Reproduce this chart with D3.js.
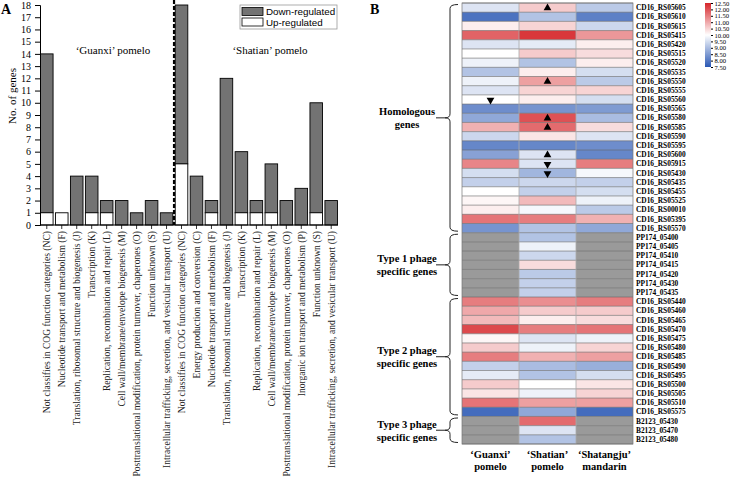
<!DOCTYPE html>
<html><head><meta charset="utf-8">
<script src="https://cdn.jsdelivr.net/npm/d3@7/dist/d3.min.js"></script>
<style>body{margin:0;background:#fff}svg{display:block}</style>
</head><body>
<script>
// ---------- Panel A data ----------
const categoriesG = ["Not classifies in COG function categories (NC)","Nucleotide transport and metabolism (F)","Translation, ribosomal structure and biogenesis (J)","Transcription (K)","Replication, recombination and repair (L)","Cell wall/membrane/envelope biogenesis (M)","Posttranslational modification, protein turnover, chaperones (O)","Function unknown (S)","Intracellular trafficking, secretion, and vesicular transport (U)"];
const upG   = [1,1,0,1,1,0,0,0,0];
const downG = [13,0,4,3,1,2,1,2,1];
const categoriesS = ["Not classifies in COG function categories (NC)","Energy production and conversion (C)","Nucleotide transport and metabolism (F)","Translation, ribosomal structure and biogenesis (J)","Transcription (K)","Replication, recombination and repair (L)","Cell wall/membrane/envelope biogenesis (M)","Posttranslational modification, protein turnover, chaperones (O)","Inorganic ion transport and metabolism (P)","Function unknown (S)","Intracellular trafficking, secretion, and vesicular transport (U)"];
const upS   = [5,0,1,0,1,1,1,0,0,1,0];
const downS = [13,4,1,12,5,1,4,2,3,9,2];
const yTicks = d3.range(0,19);

// ---------- Panel B data ----------
const genes = ["CD16_RS05605","CD16_RS05610","CD16_RS05615","CD16_RS05415","CD16_RS05420","CD16_RS05515","CD16_RS05520","CD16_RS05535","CD16_RS05550","CD16_RS05555","CD16_RS05560","CD16_RS05565","CD16_RS05580","CD16_RS05585","CD16_RS05590","CD16_RS05595","CD16_RS05600","CD16_RS05915","CD16_RS05430","CD16_RS05435","CD16_RS05455","CD16_RS05525","CD16_RS00010","CD16_RS05395","CD16_RS05570",
 "PP174_05400","PP174_05405","PP174_05410","PP174_05415","PP174_05420","PP174_05430","PP174_05435",
 "CD16_RS05440","CD16_RS05460","CD16_RS05465","CD16_RS05470","CD16_RS05475","CD16_RS05480","CD16_RS05485","CD16_RS05490","CD16_RS05495","CD16_RS05500","CD16_RS05505","CD16_RS05510","CD16_RS05575",
 "B2123_05430","B2123_05470","B2123_05480"];
const columns = ["‘Guanxi’|pomelo","‘Shatian’|pomelo","‘Shatangju’|mandarin"];
const valGuanxi = [9.6,7.9,10.2,11.8,9.6,10.0,9.8,9.1,9.8,9.6,10.0,8.3,8.7,10.9,9.4,8.2,8.6,11.4,9.5,9.3,10.0,10.1,10.2,11.6,8.4,
 null,null,null,null,null,null,null,
 11.5,11.0,10.8,12.1,10.1,10.6,11.5,9.3,9.7,10.6,10.3,11.6,7.8,
 null,null,null];
const valShatian = [10.6,9.1,10.5,12.3,9.7,10.6,9.1,10.2,11.1,10.5,10.2,8.4,12.0,11.7,10.3,8.2,9.6,9.6,8.9,9.4,9.3,10.8,9.9,11.5,9.1,
 9.1,9.8,9.4,10.4,9.2,9.3,9.3,
 11.3,10.6,10.2,11.5,9.6,9.8,10.9,9.0,9.1,10.0,9.8,11.1,8.7,
 11.7,9.6,9.1];
const valShatangju = [9.2,8.1,9.4,11.2,10.2,10.4,10.2,9.5,9.2,10.5,9.5,8.5,9.0,10.4,9.6,8.3,8.2,11.5,9.9,9.3,9.5,9.8,9.2,10.9,8.7,
 null,null,null,null,null,null,null,
 11.5,10.6,10.4,11.6,9.8,10.5,11.1,8.8,9.5,10.3,10.5,11.1,7.8,
 null,null,null];
const groups = [
 {name:["Homologous","genes"], first:0, last:24},
 {name:["Type 1 phage","specific genes"], first:25, last:31},
 {name:["Type 2 phage","specific genes"], first:32, last:44},
 {name:["Type 3 phage","specific genes"], first:45, last:47}];
const arrows = [
 {gene:"CD16_RS05605", col:1, dir:"up"},
 {gene:"CD16_RS05550", col:1, dir:"up"},
 {gene:"CD16_RS05560", col:0, dir:"down"},
 {gene:"CD16_RS05580", col:1, dir:"up"},
 {gene:"CD16_RS05585", col:1, dir:"up"},
 {gene:"CD16_RS05600", col:1, dir:"up"},
 {gene:"CD16_RS05915", col:1, dir:"down"},
 {gene:"CD16_RS05430", col:1, dir:"down"}];
const legendTicks = [12.5,12,11.5,11,10.5,10,9.5,9,8.5,8,7.5];

const W=733,H=482;
const svg=d3.select("body").append("svg").attr("width",W).attr("height",H);
const serif="'Liberation Serif','Times New Roman',serif";
const sans="'Liberation Sans',Arial,sans-serif";

// ================= Panel A =================
const cats = categoriesG.concat(categoriesS);
const ups = upG.concat(upS), downs = downG.concat(downS);
const idx = d3.range(cats.length);
const x = d3.scaleBand().domain(idx).range([40.5,337.5]).paddingInner(0.16).paddingOuter(0);
const y = d3.scaleLinear().domain([0,18]).range([225,5]);
const gA = svg.append("g");

gA.selectAll("rect.down").data(idx).join("rect")
  .attr("x",i=>x(i)).attr("width",x.bandwidth())
  .attr("y",i=>y(ups[i]+downs[i])).attr("height",i=>y(ups[i])-y(ups[i]+downs[i]))
  .attr("fill","#737373").attr("stroke","#000").attr("stroke-width",0.9);
gA.selectAll("rect.up").data(idx.filter(i=>ups[i]>0)).join("rect")
  .attr("x",i=>x(i)).attr("width",x.bandwidth())
  .attr("y",i=>y(ups[i])).attr("height",i=>y(0)-y(ups[i]))
  .attr("fill","#fff").attr("stroke","#000").attr("stroke-width",0.9);

// y axis
const yAx = gA.append("g").attr("transform","translate(40,0)")
  .call(d3.axisLeft(y).tickValues(yTicks).tickSize(5).tickFormat(d3.format("d")));
yAx.select(".domain").attr("stroke","#000");
yAx.selectAll("text").attr("font-family",serif).attr("font-size",10).attr("fill","#000").attr("dx","-1");
// x axis line
gA.append("line").attr("x1",40).attr("x2",338).attr("y1",225).attr("y2",225).attr("stroke","#000");
gA.selectAll("line.xt").data(idx).join("line")
  .attr("x1",i=>x(i)+x.bandwidth()/2).attr("x2",i=>x(i)+x.bandwidth()/2)
  .attr("y1",225).attr("y2",229).attr("stroke","#000").attr("stroke-width",0.8);
// x labels
gA.selectAll("text.xl").data(idx).join("text")
  .attr("transform",i=>`translate(${x(i)+x.bandwidth()/2+3.5},231) rotate(-90)`)
  .attr("text-anchor","end").attr("font-family",serif).attr("font-size",9.6).attr("fill","#222")
  .text(i=>cats[i]);

// dashed separator
const sepX = (x(categoriesG.length-1)+x.bandwidth()+x(categoriesG.length))/2;
gA.append("line").attr("x1",sepX).attr("x2",sepX).attr("y1",0).attr("y2",225)
  .attr("stroke","#000").attr("stroke-width",2.2).attr("stroke-dasharray","4,2");

// axis title
gA.append("text").attr("transform","translate(16,96) rotate(-90)").attr("text-anchor","middle")
  .attr("font-family",serif).attr("font-size",11).text("No. of genes");
gA.append("text").attr("x",113).attr("y",54).attr("text-anchor","middle")
  .attr("font-family",serif).attr("font-size",11).text("‘Guanxi’ pomelo");
gA.append("text").attr("x",270).attr("y",54).attr("text-anchor","middle")
  .attr("font-family",serif).attr("font-size",11).text("‘Shatian’ pomelo");
// legend
gA.append("rect").attr("x",240).attr("y",5).attr("width",97).attr("height",24).attr("fill","#fff").attr("stroke","#999").attr("stroke-width",0.8);
gA.append("rect").attr("x",242).attr("y",7.5).attr("width",21).attr("height",8).attr("fill","#737373").attr("stroke","#000").attr("stroke-width",0.8);
gA.append("rect").attr("x",242).attr("y",18).attr("width",21).attr("height",8).attr("fill","#fff").attr("stroke","#000").attr("stroke-width",0.8);
gA.append("text").attr("x",266).attr("y",15).attr("font-family",sans).attr("font-size",9.8).text("Down-regulated");
gA.append("text").attr("x",266).attr("y",26).attr("font-family",sans).attr("font-size",9.8).text("Up-regulated");
svg.append("text").attr("x",1).attr("y",14).attr("font-family",serif).attr("font-weight","bold").attr("font-size",14).text("A");
svg.append("text").attr("x",370).attr("y",14).attr("font-family",serif).attr("font-weight","bold").attr("font-size",14).text("B");

// ================= Panel B =================
const vals = [valGuanxi,valShatian,valShatangju];
const xb = d3.scaleBand().domain([0,1,2]).range([462,633]);
const yb = d3.scaleBand().domain(genes).range([3,444]);
const color = d3.scaleLinear().domain([7.5,10,12.5]).range(["#2a58b4","#ffffff","#d6262a"]).clamp(true);
const gB = svg.append("g");
const cells=[];
vals.forEach((arr,c)=>arr.forEach((v,r)=>cells.push({c,r,v})));
gB.selectAll("rect.cell").data(cells).join("rect")
  .attr("x",d=>xb(d.c)).attr("y",d=>yb(genes[d.r])).attr("width",xb.bandwidth()).attr("height",yb.bandwidth())
  .attr("fill",d=>d.v==null?"#9a9a9a":color(d.v));
// row lines
gB.selectAll("line.rl").data(d3.range(genes.length+1)).join("line")
  .attr("x1",462).attr("x2",633)
  .attr("y1",i=>i<genes.length?yb(genes[i]):yb.range()[1]).attr("y2",i=>i<genes.length?yb(genes[i]):yb.range()[1])
  .attr("stroke","#666").attr("stroke-width",0.6);
gB.selectAll("line.cl").data([1,2]).join("line")
  .attr("x1",c=>xb(c)).attr("x2",c=>xb(c)).attr("y1",3).attr("y2",444).attr("stroke","#aaa").attr("stroke-width",0.8);
gB.append("rect").attr("x",462).attr("y",3).attr("width",171).attr("height",441).attr("fill","none").attr("stroke","#777").attr("stroke-width",0.7);

// arrows
const tri = d3.symbol().type(d3.symbolTriangle).size(26);
gB.selectAll("path.arr").data(arrows).join("path")
  .attr("d",tri)
  .attr("transform",d=>`translate(${xb(d.col)+xb.bandwidth()/2},${yb(d.gene)+yb.bandwidth()/2+0.5}) ${d.dir==="down"?"rotate(180)":""}`)
  .attr("fill","#000");

// gene labels
gB.selectAll("text.gl").data(genes).join("text")
  .attr("x",636).attr("y",g=>yb(g)+yb.bandwidth()/2+2.6)
  .attr("font-family",serif).attr("font-weight","bold").attr("font-size",7.4).text(g=>g);

// column labels
columns.forEach((c,i)=>{
  const parts=c.split("|");
  parts.forEach((p,j)=>gB.append("text").attr("x",xb(i)+xb.bandwidth()/2).attr("y",458+j*12)
    .attr("text-anchor","middle").attr("font-family",serif).attr("font-weight","bold").attr("font-size",10.5).text(p));
});

// group braces and labels
groups.forEach(g=>{
  const y0 = yb(genes[g.first])+1.5, y1 = yb(genes[g.last])+yb.bandwidth()-1.5, ym=(y0+y1)/2;
  const xe=458, xv=450, xt=445, r=4;
  const p = `M${xe},${y0} Q${xv},${y0} ${xv},${y0+r} L${xv},${ym-r} Q${xv},${ym} ${xt},${ym} Q${xv},${ym} ${xv},${ym+r} L${xv},${y1-r} Q${xv},${y1} ${xe},${y1}`;
  gB.append("path").attr("d",p).attr("fill","none").attr("stroke","#222").attr("stroke-width",1);
  gB.append("line").attr("x1",436).attr("x2",xt).attr("y1",ym).attr("y2",ym).attr("stroke","#222").attr("stroke-width",1);
  g.name.forEach((t,j)=>gB.append("text").attr("x",407).attr("y",ym-2.5+j*13)
    .attr("text-anchor","middle").attr("font-family",serif).attr("font-weight","bold").attr("font-size",10.5).text(t));
});

// colour legend
const defs=svg.append("defs");
const grad=defs.append("linearGradient").attr("id","cg").attr("x1",0).attr("x2",0).attr("y1",0).attr("y2",1);
legendTicks.forEach((t,i)=>grad.append("stop").attr("offset",i/(legendTicks.length-1)).attr("stop-color",color(t)));
const yl = d3.scaleLinear().domain([12.5,7.5]).range([3,67]);
svg.append("rect").attr("x",705).attr("y",3).attr("width",6).attr("height",64).attr("fill","url(#cg)");
const lg = svg.append("g").attr("transform","translate(711,0)")
  .call(d3.axisRight(yl).tickValues(legendTicks).tickSize(2).tickFormat(d3.format(".2f")));
lg.select(".domain").remove();
lg.selectAll("text").attr("font-family",serif).attr("font-size",6.6).attr("dx","-1.5").attr("fill","#000");
</script>
</body></html>
